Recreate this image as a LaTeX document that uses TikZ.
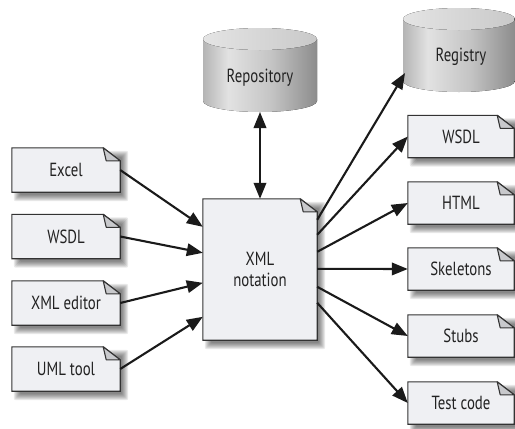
\documentclass[tikz,border=0pt]{standalone}
\usepackage{fontspec}
\setmainfont{PT Sans}[FakeStretch=0.78]
\usetikzlibrary{arrows.meta,backgrounds,calc}
\definecolor{boxfill}{HTML}{EFF0F3}
\definecolor{boxline}{HTML}{333333}
\definecolor{flapfill}{HTML}{C8C9CC}
\definecolor{arrowc}{HTML}{1A1A1A}
\definecolor{textc}{HTML}{222222}
\definecolor{cylA}{HTML}{B4B4B4}
\definecolor{cylB}{HTML}{E2E2E2}
\definecolor{cylC}{HTML}{C4C4C4}
\definecolor{cylD}{HTML}{8C8C8C}
\definecolor{topA}{HTML}{E4E4E4}
\definecolor{topB}{HTML}{C9C9C9}
\pgfdeclarehorizontalshading{cylbody}{100bp}{color(0bp)=(cylA); color(25bp)=(cylA); color(36bp)=(cylB); color(55bp)=(cylC); color(75bp)=(cylD); color(100bp)=(cylD)}
\pgfdeclarehorizontalshading{cyltop}{100bp}{color(0bp)=(topA); color(25bp)=(topA); color(75bp)=(topB); color(100bp)=(topB)}
\newcommand\docshadow[1]{%
  \foreach \s in {-3,-2,...,3}{%
    \fill[black, opacity=0.085, rounded corners=2] ($(#1.north west)+(5+\s,6+\s)$) rectangle ($(#1.south east)+(5-\s,6-\s)$);}}
\newcommand\docshape[1]{%
  \docshadow{#1}%
  \filldraw[fill=boxfill, draw=boxline, line width=1.1pt] (#1.north west) -- ($(#1.north east)+(-17,0)$) -- ($(#1.north east)+(0,13)$) -- (#1.south east) -- (#1.south west) -- cycle;
  \filldraw[fill=flapfill, draw=boxline, line width=1.1pt, line join=round] ($(#1.north east)+(-17,0)$) -- ($(#1.north east)+(-14,13)$) -- ($(#1.north east)+(0,13)$) -- cycle;}
\begin{document}
\begin{tikzpicture}[x=1pt,y=-1pt,
  doc/.style={minimum width=108, minimum height=44, inner sep=0, text=textc, font=\fontsize{19}{21}\selectfont, align=center},
  rdoc/.style={doc, minimum width=106, minimum height=42},
  cyllabel/.style={inner sep=0, text=textc, font=\fontsize{19}{21}\selectfont},
  arr/.style={draw=arrowc, line width=2.1pt, -{Triangle[length=16pt,width=12.5pt]}},
  darr/.style={draw=arrowc, line width=2.1pt, {Triangle[length=16pt,width=12.5pt]}-{Triangle[length=16pt,width=12.5pt]}}]
\useasboundingbox (0,0) rectangle (515,429);
% cylinders
\fill[shading=cylbody] (203,39) -- (203,101) .. controls (203,107.1) and (228.5,112) .. (260,112) .. controls (291.5,112) and (317,107.1) .. (317,101) -- (317,39) -- cycle;
\fill[shading=cyltop] (260,39) ellipse [x radius=57, y radius=11];
\fill[shading=cylbody] (403,19) -- (403,81) .. controls (403,87.1) and (428.1,92) .. (459,92) .. controls (489.9,92) and (515,87.1) .. (515,81) -- (515,19) -- cycle;
\fill[shading=cyltop] (459,19) ellipse [x radius=56, y radius=11];
\node[cyllabel] (repo) at (260,78) {Repository};
\node[cyllabel] (reg) at (461,57) {Registry};
\coordinate (repobot) at (260,112);
\coordinate (regtip) at (405,73);
% documents
\node[doc] (excel) at (66,170) {Excel};
\node[doc] (wsdlin) at (66,236.5) {WSDL};
\node[doc] (xmled) at (66,303) {XML editor};
\node[doc] (uml) at (66,369) {UML tool};
\node[doc, minimum width=114, minimum height=141] (xml) at (260,269.5) {XML\\notation};
\node[rdoc] (wsdlout) at (461,136.5) {WSDL};
\node[rdoc] (html) at (461,203) {HTML};
\node[rdoc] (skel) at (461,269) {Skeletons};
\node[rdoc] (stubs) at (461,336) {Stubs};
\node[rdoc] (test) at (461,403) {Test code};
\begin{pgfonlayer}{background}
\foreach \n in {excel,wsdlin,xmled,uml,xml,wsdlout,html,skel,stubs,test}{\docshape{\n}}
\end{pgfonlayer}
% connectors
\draw[darr] (repobot) -- (xml.north);
\draw[arr] (excel.east) -- ($(xml.north west)+(0,28)$);
\draw[arr] (wsdlin.east) -- ($(xml.north west)+(0,54)$);
\draw[arr] (xmled.east) -- ($(xml.north west)+(0,84)$);
\draw[arr] (uml.east) -- ($(xml.north west)+(0,118)$);
\draw[arr] ($(xml.north east)+(0,21)$) -- (regtip);
\draw[arr] ($(xml.north east)+(0,36)$) -- (wsdlout.west);
\draw[arr] ($(xml.north east)+(0,53)$) -- (html.west);
\draw[arr] ($(xml.north east)+(0,70)$) -- (skel.west);
\draw[arr] ($(xml.north east)+(0,88)$) -- (stubs.west);
\draw[arr] ($(xml.north east)+(0,104)$) -- (test.west);
\end{tikzpicture}
\end{document}
